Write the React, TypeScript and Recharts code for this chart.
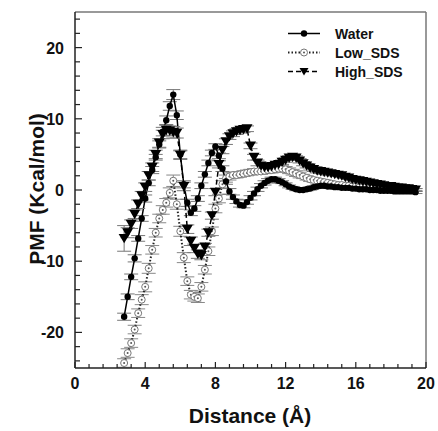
import React from "react";
import { LineChart, Line, XAxis, YAxis, ErrorBar, ReferenceLine } from "recharts";

// distance (Å) of each sampling window
const distance = [
  2.8, 3.0, 3.2, 3.4, 3.6, 3.8, 4.0, 4.2, 4.4, 4.6,
  4.8, 5.0, 5.2, 5.4, 5.6, 5.8, 6.0, 6.2, 6.4, 6.6,
  6.8, 7.0, 7.2, 7.4, 7.6, 7.8, 8.0, 8.2, 8.4, 8.6,
  8.8, 9.0, 9.2, 9.4, 9.6, 9.8, 10.0, 10.2, 10.4, 10.6,
  10.8, 11.0, 11.2, 11.4, 11.6, 11.8, 12.0, 12.2, 12.4, 12.6,
  12.8, 13.0, 13.2, 13.4, 13.6, 13.8, 14.0, 14.2, 14.4, 14.6,
  14.8, 15.0, 15.2, 15.4, 15.6, 15.8, 16.0, 16.2, 16.4, 16.6,
  16.8, 17.0, 17.2, 17.4, 17.6, 17.8, 18.0, 18.2, 18.4, 18.6,
  18.8, 19.0, 19.2, 19.4,
];

const water = [
  -17.8, -15.0, -12.2, -9.6, -6.8, -4.0, -1.2, 1.0, 2.8, 4.6,
  6.4, 8.2, 9.8, 11.8, 13.4, 10.5, 5.0, 0.8, -1.8, -3.2,
  -2.6, -1.2, 0.6, 2.2, 3.8, 5.2, 6.1, 4.8, 3.0, 1.2,
  -0.2, -1.0, -1.6, -2.1, -2.2, -1.7, -1.1, -0.5, 0.1, 0.6,
  1.0, 1.3, 1.5, 1.5, 1.3, 1.1, 0.8, 0.5, 0.3, 0.1,
  0.0, 0.0, 0.1, 0.2, 0.4, 0.5, 0.6, 0.6, 0.5, 0.5,
  0.4, 0.4, 0.3, 0.3, 0.3, 0.2, 0.2, 0.1, 0.1, 0.1,
  0.0, 0.0, 0.0, -0.1, -0.1, -0.1, -0.1, -0.2, -0.2, -0.2,
  -0.2, -0.2, -0.2, -0.3,
];
const waterErr = [
  0.5, 0.4, 0.4, 0.5, 0.4, 0.4, 0.5, 0.4, 0.5, 0.4,
  0.5, 0.6, 0.6, 0.6, 0.7, 0.6, 0.6, 0.5, 0.5, 0.4,
  0.4, 0.4, 0.4, 0.4, 0.4, 0.4, 0.4, 0.4, 0.4, 0.4,
  0.4, 0.3, 0.3, 0.3, 0.3, 0.3, 0.3, 0.3, 0.3, 0.3,
  0.3, 0.3, 0.3, 0.3, 0.3, 0.2, 0.2, 0.2, 0.2, 0.2,
  0.2, 0.2, 0.2, 0.2, 0.2, 0.2, 0.2, 0.2, 0.2, 0.2,
  0.2, 0.2, 0.2, 0.2, 0.2, 0.2, 0.2, 0.2, 0.2, 0.2,
  0.2, 0.2, 0.2, 0.2, 0.2, 0.2, 0.2, 0.2, 0.2, 0.2,
  0.2, 0.2, 0.2, 0.2,
];

const lowSds = [
  -24.3, -22.9, -21.5, -19.6, -17.3, -15.4, -13.6, -11.0, -8.4, -6.0,
  -4.0, -2.8, -1.8, -0.4, 1.3, -2.0, -5.8, -9.5, -12.8, -14.7,
  -15.0, -15.2, -13.6, -11.2, -8.6, -5.8, -2.6, -1.2, 0.8, 1.6,
  1.9, 2.1, 2.1, 2.2, 2.3, 2.4, 2.5, 2.6, 2.6, 2.6,
  2.7, 2.8, 2.8, 2.9, 3.0, 3.0, 2.9, 2.7, 2.5, 2.3,
  2.1, 1.9, 1.7, 1.5, 1.4, 1.3, 1.2, 1.1, 1.0, 0.9,
  0.8, 0.7, 0.7, 0.6, 0.6, 0.5, 0.5, 0.4, 0.4, 0.4,
  0.3, 0.3, 0.3, 0.2, 0.2, 0.2, 0.2, 0.1, 0.1, 0.1,
  0.1, 0.0, 0.0, 0.0,
];
const lowSdsErr = [
  0.6, 0.6, 0.6, 0.6, 0.6, 0.7, 0.7, 0.7, 0.6, 0.6,
  0.6, 0.6, 0.6, 0.7, 0.8, 0.7, 0.7, 0.7, 0.6, 0.6,
  0.6, 0.6, 0.6, 0.6, 0.6, 0.6, 0.6, 0.6, 0.5, 0.5,
  0.5, 0.4, 0.4, 0.4, 0.4, 0.4, 0.4, 0.4, 0.4, 0.4,
  0.4, 0.4, 0.4, 0.4, 0.4, 0.4, 0.4, 0.4, 0.4, 0.4,
  0.4, 0.3, 0.3, 0.3, 0.3, 0.3, 0.3, 0.3, 0.3, 0.3,
  0.3, 0.3, 0.3, 0.3, 0.3, 0.3, 0.2, 0.2, 0.2, 0.2,
  0.2, 0.2, 0.2, 0.2, 0.2, 0.2, 0.2, 0.2, 0.2, 0.2,
  0.2, 0.2, 0.2, 0.2,
];

const highSds = [
  -6.8, -6.0, -4.8, -3.4, -2.0, -0.8, 0.4, 2.0, 3.2, 5.0,
  6.6, 7.8, 8.4, 8.3, 8.1, 8.0, 4.9, 0.5, -5.5, -7.2,
  -8.2, -9.0, -9.2, -8.0, -6.0, -3.6, -0.3, 3.6, 5.6, 6.8,
  7.5, 7.9, 8.2, 8.4, 8.5, 8.6, 6.2, 4.6, 3.8, 3.4,
  3.2, 3.2, 3.3, 3.5, 3.6, 3.9, 4.2, 4.5, 4.6, 4.5,
  4.1, 3.7, 3.4, 3.1, 2.9, 2.7, 2.6, 2.5, 2.4, 2.3,
  2.2, 2.1, 2.0, 1.8, 1.7, 1.5, 1.4, 1.3, 1.2, 1.1,
  1.0, 0.9, 0.8, 0.7, 0.6, 0.5, 0.5, 0.4, 0.3, 0.3,
  0.2, 0.2, 0.1, 0.0,
];
const highSdsErr = [
  1.8, 0.7, 0.6, 0.6, 0.6, 0.6, 0.6, 0.6, 0.6, 0.6,
  0.6, 0.6, 0.7, 0.7, 0.8, 0.7, 0.6, 0.6, 0.6, 0.6,
  0.6, 0.6, 0.6, 0.5, 0.5, 0.5, 0.5, 0.5, 0.5, 0.4,
  0.4, 0.4, 0.4, 0.4, 0.4, 0.4, 0.4, 0.4, 0.4, 0.4,
  0.4, 0.3, 0.3, 0.3, 0.3, 0.3, 0.3, 0.3, 0.3, 0.3,
  0.3, 0.3, 0.3, 0.3, 0.3, 0.3, 0.3, 0.3, 0.3, 0.3,
  0.2, 0.2, 0.2, 0.2, 0.2, 0.2, 0.2, 0.2, 0.2, 0.2,
  0.2, 0.2, 0.2, 0.2, 0.2, 0.2, 0.2, 0.2, 0.2, 0.2,
  0.2, 0.2, 0.2, 0.2,
];

const xTicks = [0, 0.8, 1.6, 2.4, 3.2, 4, 4.8, 5.6, 6.4, 7.2, 8, 8.8, 9.6, 10.4, 11.2, 12, 12.8, 13.6, 14.4, 15.2, 16, 16.8, 17.6, 18.4, 19.2, 20];
const xLabels = [0, 4, 8, 12, 16, 20];
const yTicks = [-24, -22, -20, -18, -16, -14, -12, -10, -8, -6, -4, -2, 0, 2, 4, 6, 8, 10, 12, 14, 16, 18, 20, 22, 24];
const yLabels = [-20, -10, 0, 10, 20];

const FONT = '"Liberation Sans", Arial, sans-serif';

const rows = (ys: number[], errs: number[]) => distance.map((d, i) => ({ d, y: ys[i], e: errs[i] }));

const XTick = (props: any) => {
  const { x, y, payload } = props;
  const major = xLabels.includes(payload.value);
  return (
    <g>
      <line x1={x} y1={y} x2={x} y2={y - (major ? 6 : 4)} stroke="#222" strokeWidth={1.2} />
      {major && (
        <text x={x} y={y + 21} textAnchor="middle" fontFamily={FONT} fontWeight="bold" fontSize={16} fill="#111">
          {payload.value}
        </text>
      )}
    </g>
  );
};

const YTick = (props: any) => {
  const { x, y, payload } = props;
  const major = yLabels.includes(payload.value);
  return (
    <g>
      <line x1={x} y1={y} x2={x + (major ? 7 : 5)} y2={y} stroke="#222" strokeWidth={1.2} />
      {major && (
        <text x={x - 11} y={y + 6} textAnchor="end" fontFamily={FONT} fontWeight="bold" fontSize={16} fill="#111">
          {payload.value}
        </text>
      )}
    </g>
  );
};

const waterDot = (p: any) => <circle key={p.index} cx={p.cx} cy={p.cy} r={3.2} fill="#000" />;

const lowDot = (p: any) => (
  <g key={p.index}>
    <circle cx={p.cx} cy={p.cy} r={3.5} fill="#fff" stroke="#777" strokeWidth={1} />
    <circle cx={p.cx} cy={p.cy} r={1} fill="#555" />
  </g>
);

const Tri = ({ cx, cy, s }: { cx: number; cy: number; s: number }) => (
  <path d={`M${cx - s},${cy - s * 0.8} L${cx + s},${cy - s * 0.8} L${cx},${cy + s * 0.9} Z`} fill="#000" />
);
const highDot = (p: any) => <Tri key={p.index} cx={p.cx} cy={p.cy} s={5.5} />;

const seriesNames = ["Water", "Low_SDS", "High_SDS"];

const LegendBox = () => (
  <div style={{ position: "absolute", left: 286, top: 24, fontFamily: FONT, fontWeight: "bold", fontSize: 14, color: "#111" }}>
    {seriesNames.map((name, i) => (
      <div key={name} style={{ display: "flex", alignItems: "center", height: 19 }}>
        <svg width={49} height={19}>
          {i === 0 && (
            <>
              <line x1={2} y1={9.5} x2={34} y2={9.5} stroke="#000" strokeWidth={1.5} />
              <circle cx={18} cy={9.5} r={3.2} fill="#000" />
            </>
          )}
          {i === 1 && (
            <>
              <line x1={2} y1={9.5} x2={34} y2={9.5} stroke="#222" strokeWidth={2} strokeDasharray="1.5 2" />
              <circle cx={18} cy={9.5} r={3.5} fill="#fff" stroke="#777" strokeWidth={1} />
              <circle cx={18} cy={9.5} r={1} fill="#555" />
            </>
          )}
          {i === 2 && (
            <>
              <line x1={2} y1={9.5} x2={34} y2={9.5} stroke="#000" strokeWidth={1.5} strokeDasharray="5 3" />
              <Tri cx={18} cy={9.5} s={4.5} />
            </>
          )}
        </svg>
        <span>{name}</span>
      </div>
    ))}
  </div>
);

export default function App() {
  return (
    <div style={{ position: "absolute", left: 0, top: 0, width: 438, height: 431, background: "#fff" }}>
      <LineChart width={438} height={431} margin={{ top: 12, right: 12, left: 0, bottom: 0 }}>
        <XAxis
          dataKey="d"
          type="number"
          domain={[0, 20]}
          ticks={xTicks}
          interval={0}
          height={63}
          tickSize={0}
          tickMargin={0}
          tickLine={false}
          tick={<XTick />}
          stroke="#222"
          strokeWidth={1.5}
          allowDataOverflow
          label={{
            content: () => (
              <text x={250} y={423} textAnchor="middle" fontFamily={FONT} fontWeight="bold" fontSize={21} fill="#111">
                Distance (Å)
              </text>
            ),
          }}
        />
        <YAxis
          type="number"
          domain={[-25, 25]}
          ticks={yTicks}
          interval={0}
          width={75}
          tickSize={0}
          tickMargin={0}
          tickLine={false}
          tick={<YTick />}
          stroke="#222"
          strokeWidth={1.5}
          allowDataOverflow
          label={{
            content: () => (
              <text
                x={44}
                y={189}
                transform="rotate(-90, 44, 189)"
                textAnchor="middle"
                fontFamily={FONT}
                fontWeight="bold"
                fontSize={21}
                fill="#111"
              >
                PMF (Kcal/mol)
              </text>
            ),
          }}
        />
        <ReferenceLine y={25} stroke="#777" strokeWidth={1.5} />
        <ReferenceLine x={20} stroke="#777" strokeWidth={1.5} />

        <Line
          data={rows(lowSds, lowSdsErr)}
          dataKey="y"
          name="Low_SDS"
          stroke="#222"
          strokeWidth={2}
          strokeDasharray="1.5 2"
          dot={lowDot}
          isAnimationActive={false}
        >
          <ErrorBar dataKey="e" direction="y" width={7} stroke="#888" strokeWidth={1} isAnimationActive={false} />
        </Line>
        <Line
          data={rows(water, waterErr)}
          dataKey="y"
          name="Water"
          stroke="#000"
          strokeWidth={1.5}
          dot={waterDot}
          isAnimationActive={false}
        >
          <ErrorBar dataKey="e" direction="y" width={7} stroke="#777" strokeWidth={1} isAnimationActive={false} />
        </Line>
        <Line
          data={rows(highSds, highSdsErr)}
          dataKey="y"
          name="High_SDS"
          stroke="#000"
          strokeWidth={1.5}
          strokeDasharray="5 3"
          dot={highDot}
          isAnimationActive={false}
        >
          <ErrorBar dataKey="e" direction="y" width={7} stroke="#777" strokeWidth={1} isAnimationActive={false} />
        </Line>
      </LineChart>
      <LegendBox />
    </div>
  );
}
